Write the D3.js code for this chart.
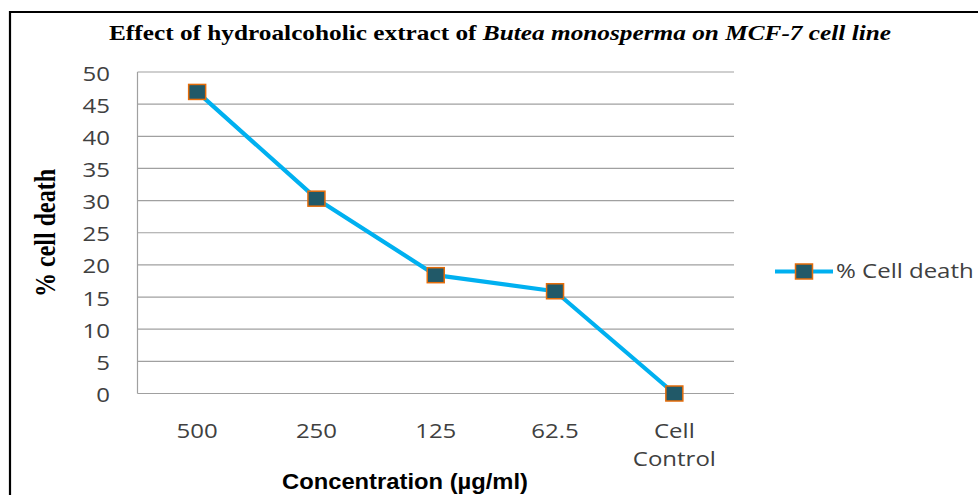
<!DOCTYPE html>
<html><head><meta charset="utf-8">
<script src="https://cdn.jsdelivr.net/npm/d3@7"></script>
<style>body{margin:0;background:#fff}svg{display:block}</style>
</head><body>
<svg id="c" width="978" height="495"></svg>
<script>
const categories = ["500", "250", "125", "62.5", "Cell\nControl"];
const cellDeath = [46.9, 30.3, 18.4, 15.9, 0];
const yTicks = [0, 5, 10, 15, 20, 25, 30, 35, 40, 45, 50];
const seriesName = "% Cell death";

const svg = d3.select("#c");
const L = 137.5, R = 734, T = 72, B = 393.5;
const SX = 1.2;
const labelFont = "Open Sans, sans-serif";
const labelColor = "#404040";

// frame
svg.append("line").attr("x1", 10).attr("x2", 978).attr("y1", 12).attr("y2", 12).attr("stroke", "#000").attr("stroke-width", 2.2);
svg.append("line").attr("x1", 10).attr("x2", 10).attr("y1", 11).attr("y2", 495).attr("stroke", "#000").attr("stroke-width", 2.2);

const x = d3.scaleBand().domain(categories).range([L, R]);
const y = d3.scaleLinear().domain([0, 50]).range([B, T]);

// gridlines
svg.append("g").selectAll("line").data(y.ticks(10)).join("line")
  .attr("x1", L).attr("x2", R).attr("y1", d => y(d)).attr("y2", d => y(d))
  .attr("stroke", "#a0a0a0").attr("stroke-width", 1.2);
svg.append("line").attr("x1", L).attr("x2", L).attr("y1", T).attr("y2", B).attr("stroke", "#a0a0a0").attr("stroke-width", 1.2);

// y tick labels
svg.append("g").selectAll("text").data(yTicks).join("text")
  .attr("transform", d => `translate(110,${y(d) + 8.5}) scale(${SX},1)`)
  .attr("text-anchor", "end").attr("font-family", labelFont).attr("font-size", 20).attr("fill", labelColor)
  .text(d => d);

// x tick labels
const gx = svg.append("g");
categories.forEach(c => {
  const cx = x(c) + x.bandwidth() / 2;
  const t = gx.append("text").attr("transform", `translate(${cx},438) scale(${SX},1)`)
    .attr("text-anchor", "middle").attr("font-family", labelFont).attr("font-size", 20).attr("fill", labelColor);
  c.split("\n").forEach((ln, i) => t.append("tspan").attr("x", 0).attr("dy", i === 0 ? 0 : 28).text(ln));
});

// line
const pts = categories.map((c, i) => [x(c) + x.bandwidth() / 2, y(cellDeath[i])]);
svg.append("path").attr("d", d3.line()(pts)).attr("fill", "none").attr("stroke", "#00b0f0").attr("stroke-width", 4.2).attr("stroke-linejoin", "round");
svg.append("g").selectAll("rect").data(pts).join("rect")
  .attr("x", d => d[0] - 8.5).attr("y", d => d[1] - 7.5).attr("width", 17).attr("height", 15)
  .attr("fill", "#215968").attr("stroke", "#e46c0a").attr("stroke-width", 1.5);

// legend
svg.append("line").attr("x1", 775).attr("x2", 833).attr("y1", 271.5).attr("y2", 271.5).attr("stroke", "#00b0f0").attr("stroke-width", 4.2);
svg.append("rect").attr("x", 795.5).attr("y", 264).attr("width", 17).attr("height", 15)
  .attr("fill", "#215968").attr("stroke", "#e46c0a").attr("stroke-width", 1.5);
svg.append("text").attr("transform", `translate(836,278) scale(${SX},1)`)
  .attr("font-family", labelFont).attr("font-size", 20).attr("fill", labelColor).text(seriesName);

// title
const title = svg.append("text").attr("x", 109).attr("y", 40).attr("font-family", "Liberation Serif, Times New Roman, serif")
  .attr("font-weight", "bold").attr("font-size", 21).attr("fill", "#000")
  .attr("textLength", 782).attr("lengthAdjust", "spacingAndGlyphs");
title.append("tspan").text("Effect of hydroalcoholic extract of ");
title.append("tspan").attr("font-style", "italic").text("Butea monosperma on MCF-7 cell line");

// y title
svg.append("text").attr("transform", `translate(55,233) scale(${SX},1) rotate(-90)`).attr("text-anchor", "middle")
  .attr("font-family", "Liberation Serif, Times New Roman, serif").attr("font-weight", "bold").attr("font-size", 24)
  .attr("fill", "#000").text("% cell death");

// x title
svg.append("text").attr("x", 282).attr("y", 489)
  .attr("font-family", "Liberation Sans, Arial, sans-serif").attr("font-weight", "bold").attr("font-size", 22.5)
  .attr("fill", "#000").attr("textLength", 246).attr("lengthAdjust", "spacingAndGlyphs").text("Concentration (µg/ml)");
</script>
</body></html>
